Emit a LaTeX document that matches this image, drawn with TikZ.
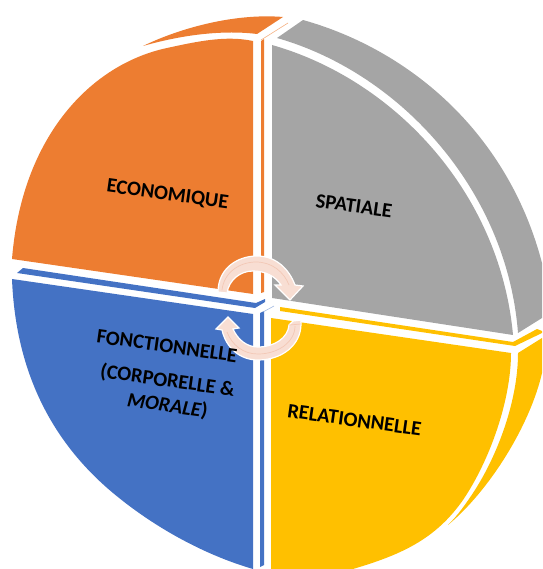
\documentclass[tikz,border=0pt]{standalone}
\usepackage{fontspec}
\setmainfont{Carlito}
\definecolor{org}{HTML}{ED7D31}
\definecolor{gry}{HTML}{A5A5A5}
\definecolor{yel}{HTML}{FFC000}
\definecolor{blu}{HTML}{4472C4}
\definecolor{pinkf}{HTML}{F8DED3}
\definecolor{pinkd}{HTML}{F3C8B6}
\tikzset{
  sliver/.style={line width=0.6pt},
  turn/.style={fill=pinkf,draw=white,line width=1.2pt,line join=miter},
  turnedge/.style={draw=pinkd,line width=0.7pt},
  lab/.style={font=\bfseries\fontsize{20.5}{24}\selectfont,text=black,inner sep=0pt,rotate=-8,align=center},
}
\begin{document}
\begin{tikzpicture}[x=1pt,y=-1pt]
\useasboundingbox (0,0) rectangle (542,569);
\clip (0,0) rectangle (542,569);
% orange
\fill[org] (143,46) .. controls (180,28) and (235,13) .. (283,17) -- (257,34) .. controls (225,30) and (185,34) .. (143,46) -- cycle;
\fill[org] (253,41) .. controls (225,35) and (195,42) .. (167,48) .. controls (92,64) and (22,135) .. (12,259) -- (253,294) -- cycle;
\fill[org] (261,41) -- (264,39) -- (264,292) -- (261,293) -- cycle;
\draw[org!60,sliver] (261,40) -- (288,23);
% gray
\fill[gry] (277,38) .. controls (400,73) and (507,190) .. (518,333) -- (542,318) -- (542,263) .. controls (508,133) and (410,50) .. (303,20) -- cycle;
\fill[gry] (272,45) .. controls (395,80) and (500,193) .. (513,335) -- (272,298) -- cycle;
% yellow
\fill[yel] (280,307) -- (513,342) -- (537,329) -- (542,331) -- (542,333) -- (515,346) -- (280,311) -- cycle;
\fill[yel] (518,353) .. controls (518,400) and (498,455) .. (473,493) .. controls (465,505) and (458,515) .. (448,525) .. controls (490,490) and (530,425) .. (542,373) -- (542,338) -- cycle;
\fill[yel] (271,318) -- (511,353) .. controls (511,400) and (490,460) .. (463,500) .. controls (435,540) and (400,555) .. (353,569) -- (271,569) -- cycle;
% blue
\fill[blu] (23,268) -- (256,303) -- (265,299) -- (265,302) -- (255,308) -- (17,273) -- cycle;
\fill[blu] (260,313) -- (264,311) -- (264,565) -- (260,567) -- cycle;
\draw[blu!50,sliver] (263,312) -- (274,306);
\fill[blu] (12,279) -- (253,314) -- (253,569) .. controls (205,555) and (155,528) .. (113,493) .. controls (58,447) and (16,380) .. (12,279) -- cycle;
% cycle arrows
\path[turn] (218,292) .. controls (218,268) and (238,256) .. (257,256) .. controls (276,256) and (289,269) .. (295,285) -- (303,286) -- (290,300) -- (275,285) -- (281,285) .. controls (275,276) and (265,271) .. (253,271) .. controls (240,271) and (229,280) .. (227,293) -- cycle;
\draw[turnedge] (222,290) .. controls (224,272) and (240,262) .. (256,262) .. controls (272,262) and (284,272) .. (289,285);
\path[turn] (301,324) .. controls (301,345) and (282,360) .. (258,360) .. controls (240,360) and (226,348) .. (222,330) -- (216,329) -- (228,317) -- (239,328) -- (233,329) .. controls (238,340) and (247,347) .. (258,347) .. controls (274,347) and (288,338) .. (289,325) -- (293,321) -- (301,320) -- cycle;
\draw[turnedge] (289,325) -- (301,324);
\draw[turnedge] (295,326) .. controls (295,342) and (278,354) .. (258,354) .. controls (243,354) and (232,345) .. (227,332);
% labels
\node[lab] (eco) at (167.5,195) {ECONOMIQUE};
\node[lab] (spa) at (354,206) {SPATIALE};
\node[lab] (fon) at (167,346) {FONCTIONNELLE};
\node[lab] (cor) at (167.5,381) {(CORPORELLE \&};
\node[lab] (mor) at (167.5,406) {\textit{MORALE})};
\node[lab] (rel) at (354.5,420) {RELATIONNELLE};
\end{tikzpicture}
\end{document}
